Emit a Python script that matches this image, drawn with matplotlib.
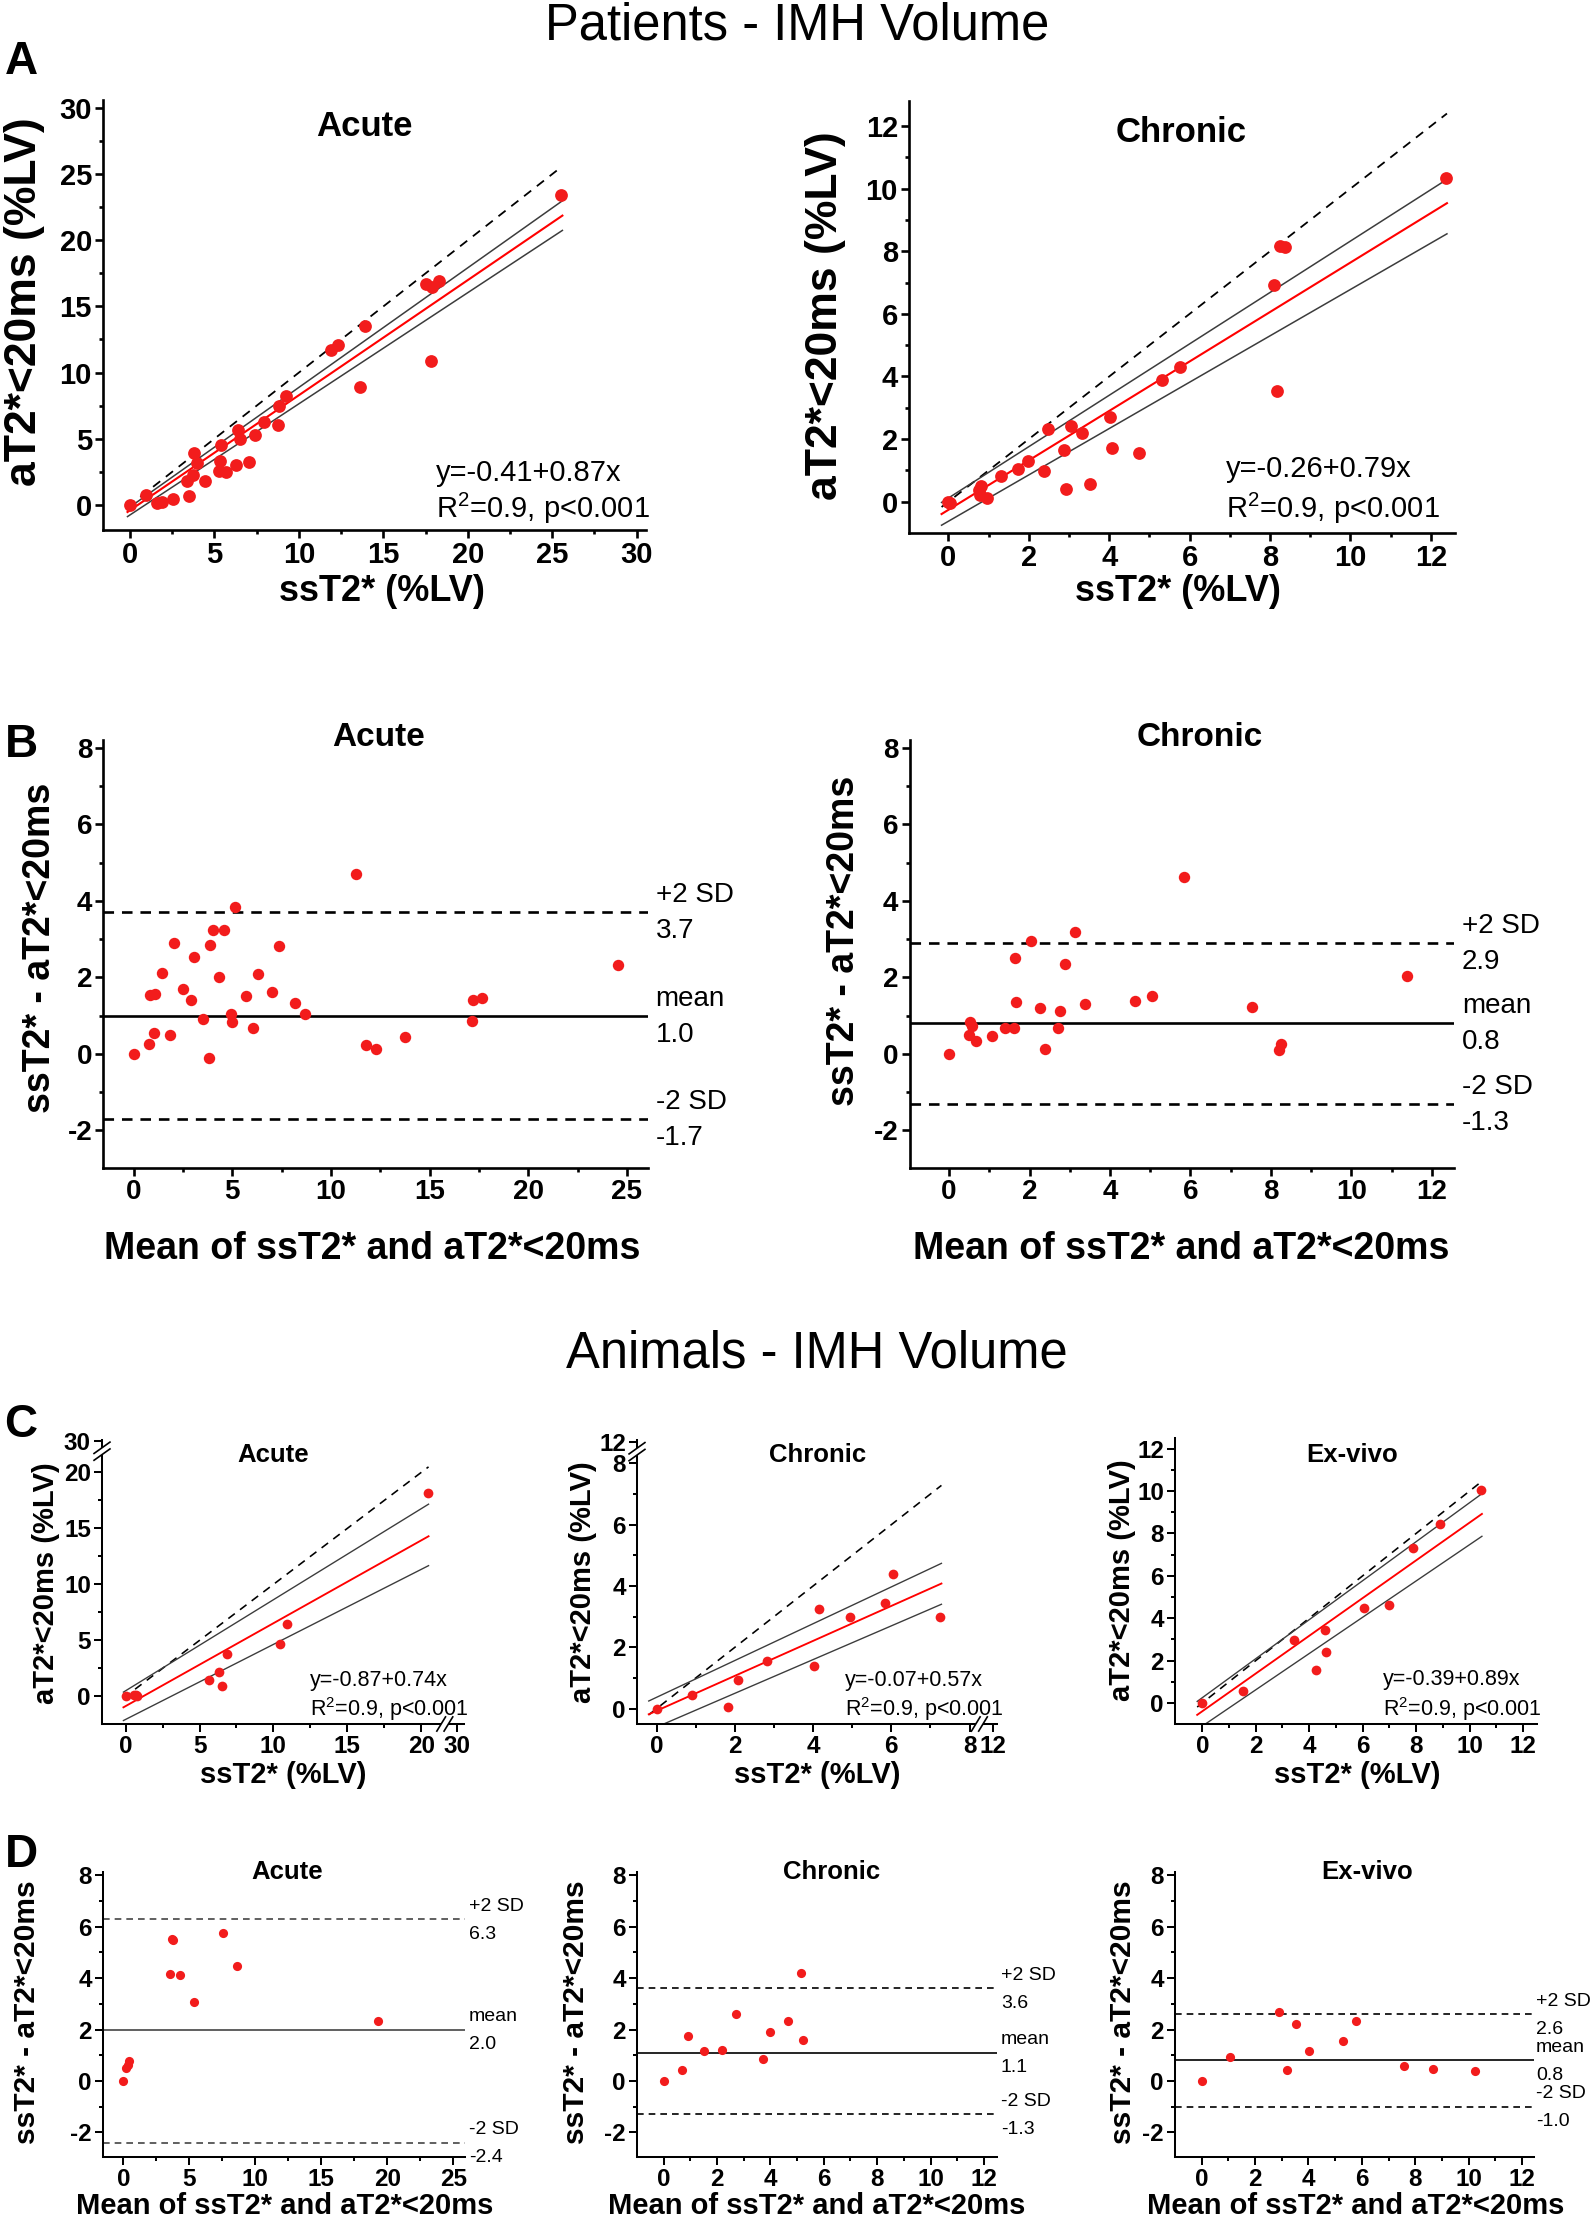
import matplotlib
matplotlib.use('Agg')
import matplotlib.pyplot as plt
import numpy as np

plt.rcParams['font.family'] = ['Liberation Sans', 'DejaVu Sans']
plt.rcParams['mathtext.fontset'] = 'custom'
plt.rcParams['mathtext.rm'] = 'Liberation Sans'
plt.rcParams['mathtext.it'] = 'Liberation Sans:italic'
plt.rcParams['mathtext.bf'] = 'Liberation Sans:bold'

W, H = 1594, 2220

# ---------------- data ----------------
# Patients, acute: ssT2* vs aT2*<20ms (%LV)
pa_ac_ss = [0, 0.92, 1.57, 1.89, 2.54, 3.5, 3.4, 3.72, 3.78, 3.94, 4.41, 5.27, 5.33, 5.37, 5.7,
            6.26, 6.41, 6.52, 7.05, 7.38, 7.91, 8.77, 8.82, 9.25, 11.9, 12.3, 13.6, 13.9, 17.5,
            17.9, 18.3, 17.8, 25.5]
pa_ac_a = [0, 0.76, 0.13, 0.25, 0.43, 0.68, 1.77, 2.27, 3.91, 3.2, 1.84, 2.53, 3.33, 4.55, 2.45,
           3.03, 5.68, 5.0, 3.23, 5.25, 6.24, 6.0, 7.5, 8.2, 11.7, 12.1, 8.9, 13.5, 16.7,
           16.5, 16.9, 10.9, 23.4]
pa_ac_fit = (-0.41, 0.87)
pa_ac_ci_hi = (-0.16, 0.904)
pa_ac_ci_lo = (-0.76, 0.84)
pa_ac_xr = (-0.15, 25.6)

# Patients, chronic
pa_ch_ss = [0, 0.05, 0.75, 0.81, 0.78, 0.97, 1.3, 1.74, 1.99, 2.37, 2.47, 2.88, 2.93, 3.05, 3.32,
            3.53, 4.02, 4.07, 4.75, 5.31, 5.77, 8.11, 8.24, 8.36, 8.17, 12.37]
pa_ch_a = [0, -0.05, 0.37, 0.5, 0.21, 0.11, 0.83, 1.04, 1.30, 0.99, 2.32, 1.66, 0.40, 2.41, 2.19,
           0.56, 2.71, 1.71, 1.55, 3.9, 4.29, 6.93, 8.16, 8.14, 3.55, 10.35]
pa_ch_fit = (-0.26, 0.79)
pa_ch_ci_hi = (0.116, 0.821)
pa_ch_ci_lo = (-0.625, 0.7405)
pa_ch_xr = (-0.17, 12.4)

# Patients Bland-Altman, acute
ba_ac_mean = [0, 0.76, 0.82, 1.07, 1.03, 1.46, 1.85, 2.06, 2.53, 2.92, 3.09, 3.54, 3.83, 3.89,
              4.05, 4.32, 4.61, 4.94, 4.98, 5.12, 5.68, 6.05, 6.30, 7.00, 7.35, 8.19, 8.70,
              11.26, 11.77, 12.28, 13.77, 17.14, 17.20, 17.65, 24.57]
ba_ac_diff = [0, 0.27, 1.53, 1.57, 0.55, 2.11, 0.50, 2.90, 1.70, 1.41, 2.54, 0.91, -0.10, 2.84,
              3.23, 2.01, 3.23, 1.05, 0.83, 3.85, 1.52, 0.69, 2.08, 1.63, 2.81, 1.32, 1.03,
              4.70, 0.23, 0.14, 0.45, 0.86, 1.40, 1.47, 2.33]
ba_ac_loa = [3.7, 1.0, -1.7]

# Patients Bland-Altman, chronic
ba_ch_mean = [0, 0.52, 0.56, 0.50, 0.67, 1.07, 1.38, 1.62, 1.64, 1.66, 2.04, 2.27, 2.39, 2.71,
              2.75, 2.89, 3.14, 3.37, 4.61, 5.05, 5.85, 7.53, 8.26, 8.21, 11.38]
ba_ch_diff = [0, 0.83, 0.72, 0.50, 0.33, 0.46, 0.69, 0.69, 2.50, 1.36, 2.94, 1.20, 0.13, 0.67,
              1.12, 2.36, 3.18, 1.30, 1.37, 1.50, 4.62, 1.23, 0.27, 0.10, 2.04]
ba_ch_loa = [2.9, 0.8, -1.3]

# Animals, acute
an_ac_ss = [0, 0.56, 0.79, 0.7, 5.63, 6.33, 6.49, 6.89, 10.44, 10.89, 20.45]
an_ac_a = [0, 0.09, 0.03, 0.12, 1.46, 2.21, 0.95, 3.79, 4.68, 6.44, 18.15]
an_ac_fit = (-0.87, 0.74)
an_ac_ci_hi = (0.5, 0.813)
an_ac_ci_lo = (-2.06, 0.67)
an_ac_xr = (-0.15, 20.5)

# Animals, chronic
an_ch_ss = [0, 0.91, 1.82, 2.09, 2.81, 4.03, 4.15, 4.94, 5.84, 6.03, 7.25]
an_ch_a = [0, 0.45, 0.05, 0.93, 1.55, 1.40, 3.26, 2.98, 3.46, 4.39, 3.00]
an_ch_fit = (-0.07, 0.57)
an_ch_ci_hi = (0.37, 0.60)
an_ch_ci_lo = (-0.60, 0.55)
an_ch_xr = (-0.2, 7.28)

# Animals, ex-vivo
an_ex_ss = [0, 1.51, 3.42, 4.24, 4.59, 4.64, 6.05, 6.98, 7.88, 8.88, 10.44]
an_ex_a = [0, 0.58, 2.98, 1.56, 3.45, 2.41, 4.48, 4.62, 7.29, 8.44, 10.06]
an_ex_fit = (-0.39, 0.89)
an_ex_ci_hi = (0.25, 0.92)
an_ex_ci_lo = (-1.09, 0.856)
an_ex_xr = (-0.19, 10.46)

# Animals Bland-Altman
da_ac_mean = [0, 0.22, 0.35, 0.43, 3.53, 3.72, 3.75, 4.29, 5.35, 7.58, 8.64, 19.3]
da_ac_diff = [0, 0.51, 0.61, 0.78, 4.17, 5.54, 5.49, 4.11, 3.06, 5.76, 4.46, 2.33]
da_ac_loa = [6.3, 2.0, -2.4]

da_ch_mean = [0, 0.69, 0.92, 1.51, 2.18, 2.72, 3.71, 3.97, 4.66, 5.14, 5.23]
da_ch_diff = [0, 0.43, 1.73, 1.15, 1.21, 2.59, 0.86, 1.91, 2.34, 4.21, 1.61]
da_ch_loa = [3.6, 1.1, -1.3]

da_ex_mean = [0, 1.05, 2.90, 3.21, 3.53, 4.01, 5.28, 5.79, 7.59, 8.68, 10.25]
da_ex_diff = [0, 0.94, 2.68, 0.42, 2.22, 1.17, 1.56, 2.34, 0.58, 0.47, 0.38]
da_ex_loa = [2.6, 0.8, -1.0]

loa_names = ['+2 SD', 'mean', '-2 SD']

RED = '#f21c1c'
GRAY = '#3c3c3c'

fig = plt.figure(figsize=(W / 100, H / 100), dpi=100)


def axes_px(left, top, right, bottom):
    return fig.add_axes([left / W, 1 - bottom / H, (right - left) / W, (bottom - top) / H])


def ftext(x, y, s, size, weight='bold', rot=0, ha='center', va='center'):
    fig.text(x / W, 1 - y / H, s, fontsize=size, fontweight=weight, rotation=rot,
             ha=ha, va=va)


def style(ax, xlim, ylim, xmaj, xmin, ymaj, ymin, lw, lsize, xlabels=None, ylabels=None):
    for s in ['top', 'right']:
        ax.spines[s].set_visible(False)
    for s in ['left', 'bottom']:
        ax.spines[s].set_linewidth(lw)
    ax.set_xlim(xlim)
    ax.set_ylim(ylim)
    xl = xlabels if xlabels else [f'{v:g}' for v in xmaj]
    yl = ylabels if ylabels else [f'{v:g}' for v in ymaj]
    ax.set_xticks(xmaj, labels=xl, fontsize=lsize, fontweight='bold')
    ax.set_yticks(ymaj, labels=yl, fontsize=lsize, fontweight='bold')
    ax.set_xticks(xmin, minor=True)
    ax.set_yticks(ymin, minor=True)
    ax.tick_params(which='major', direction='out', length=5.5, width=lw, pad=2.5)
    ax.tick_params(which='minor', direction='out', length=2.8, width=lw)


def scatter_panel(ax, x, y, fit, hi, lo, xr, ms, lw_scale=1.0):
    xs = np.array(xr)
    ax.plot(xs, xs, ls=(0, (5, 4)), color='black', lw=1.3 * lw_scale, zorder=2)
    ax.plot(xs, hi[0] + hi[1] * xs, color=GRAY, lw=1.1 * lw_scale, zorder=2)
    ax.plot(xs, lo[0] + lo[1] * xs, color=GRAY, lw=1.1 * lw_scale, zorder=2)
    ax.plot(xs, fit[0] + fit[1] * xs, color='red', lw=1.5 * lw_scale, zorder=3)
    ax.plot(x, y, 'o', color=RED, ms=ms, mec='none', zorder=5, clip_on=False)


def eq_text(ax, fit, x0, y1, y2, size):
    ax.text(x0, y1, f'y={fit[0]:g}+{fit[1]:g}x', fontsize=size, ha='left', va='center')
    ax.text(x0, y2, r'R$^{\mathregular{2}}$=0.9, p<0.001', fontsize=size, ha='left', va='center')


def ba_panel(ax, m, d, loa, ms, lw, color, size, dx, up, down):
    ax.axhline(loa[0], ls=(0, (4, 3)), color=color, lw=lw, zorder=2)
    ax.axhline(loa[1], ls='-', color=color, lw=lw, zorder=2)
    ax.axhline(loa[2], ls=(0, (4, 3)), color=color, lw=lw, zorder=2)
    ax.plot(m, d, 'o', color=RED, ms=ms, mec='none', zorder=5)
    for name, v in zip(loa_names, loa):
        ax.annotate(name, xy=(1, v), xycoords=('axes fraction', 'data'), xytext=(dx, up),
                    textcoords='offset pixels', ha='left', va='center', fontsize=size,
                    annotation_clip=False)
        ax.annotate(f'{v:.1f}', xy=(1, v), xycoords=('axes fraction', 'data'),
                    xytext=(dx, -down), textcoords='offset pixels', ha='left', va='center',
                    fontsize=size, annotation_clip=False)


def ybreak(ax, yv):
    y0, y1 = ax.get_ylim()
    f = (yv - y0) / (y1 - y0)
    ax.plot([0, 0], [f - 0.012, f + 0.012], transform=ax.transAxes, color='white', lw=4,
            clip_on=False, zorder=10, solid_capstyle='butt')
    for off in (-0.012, 0.012):
        ax.plot([-0.022, 0.022], [f + off - 0.02, f + off + 0.02], transform=ax.transAxes,
                color='black', lw=1.2, clip_on=False, zorder=11)


def xbreak(ax, xv):
    x0, x1 = ax.get_xlim()
    f = (xv - x0) / (x1 - x0)
    ax.plot([f - 0.01, f + 0.01], [0, 0], transform=ax.transAxes, color='white', lw=4,
            clip_on=False, zorder=10, solid_capstyle='butt')
    for off in (-0.01, 0.01):
        ax.plot([f + off - 0.012, f + off + 0.012], [-0.025, 0.025], transform=ax.transAxes,
                color='black', lw=1.2, clip_on=False, zorder=11)


# ---------------- headers ----------------
ftext(797, 39, 'Patients - IMH Volume', 36.5, weight='normal', va='baseline')
ftext(817, 1367, 'Animals - IMH Volume', 36.5, weight='normal', va='baseline')
for letter, yy in [('A', 74), ('B', 757), ('C', 1437), ('D', 1867)]:
    ftext(21, yy, letter, 33, va='baseline')

# ---------------- Row A ----------------
ax = axes_px(103, 100, 646, 530)
style(ax, (-1.6, 30.55), (-1.9, 30.6), np.arange(0, 31, 5), np.arange(0, 31, 2.5),
      np.arange(0, 31, 5), np.arange(0, 31, 2.5), 1.9, 21)
scatter_panel(ax, pa_ac_ss, pa_ac_a, pa_ac_fit, pa_ac_ci_hi, pa_ac_ci_lo, pa_ac_xr, 9.2)
eq_text(ax, pa_ac_fit, 18.1, 2.4, -0.25, 21)
ftext(364, 127, 'Acute', 25)
ftext(382, 592, 'ssT2* (%LV)', 26)
ftext(25, 302, 'aT2*<20ms (%LV)', 32, rot=90)

ax = axes_px(909, 101, 1455, 533)
style(ax, (-0.98, 12.6), (-1.0, 12.8), np.arange(0, 13, 2), np.arange(0, 13, 1),
      np.arange(0, 13, 2), np.arange(0, 13, 1), 1.9, 21)
scatter_panel(ax, pa_ch_ss, pa_ch_a, pa_ch_fit, pa_ch_ci_hi, pa_ch_ci_lo, pa_ch_xr, 9.2)
eq_text(ax, pa_ch_fit, 6.9, 1.04, -0.21, 21)
ftext(1181, 132, 'Chronic', 25)
ftext(1178, 592, 'ssT2* (%LV)', 26)
ftext(825, 316, 'aT2*<20ms (%LV)', 32, rot=90)

# ---------------- Row B ----------------
ax = axes_px(103.5, 740, 647.7, 1168)
style(ax, (-1.52, 26.05), (-2.98, 8.2), np.arange(0, 26, 5), np.arange(0, 26, 2.5),
      np.arange(-2, 9, 2), np.arange(-2, 9, 1), 1.9, 20)
ba_panel(ax, ba_ac_mean, ba_ac_diff, ba_ac_loa, 8.2, 1.9, 'black', 20, 8, 17, 19)
ftext(379, 737, 'Acute', 24)
ftext(372, 1249, 'Mean of ssT2* and aT2*<20ms', 27)
ftext(40, 948, 'ssT2* - aT2*<20ms', 27, rot=90)

ax = axes_px(909.6, 740, 1454, 1168)
style(ax, (-0.98, 12.55), (-2.98, 8.2), np.arange(0, 13, 2), np.arange(0, 13, 1),
      np.arange(-2, 9, 2), np.arange(-2, 9, 1), 1.9, 20)
ba_panel(ax, ba_ch_mean, ba_ch_diff, ba_ch_loa, 8.2, 1.9, 'black', 20, 8, 17, 19)
ftext(1200, 737, 'Chronic', 24)
ftext(1181, 1249, 'Mean of ssT2* and aT2*<20ms', 27)
ftext(844, 941, 'ssT2* - aT2*<20ms', 27, rot=90)

# ---------------- Row C ----------------
ax = axes_px(102, 1440, 464, 1724)
style(ax, (-1.6, 22.9), (-2.47, 22.9), [0, 5, 10, 15, 20, 22.4], np.arange(0, 21, 2.5),
      [0, 5, 10, 15, 20, 22.8], np.arange(0, 21, 2.5), 1.45, 17.5,
      xlabels=['0', '5', '10', '15', '20', '30'], ylabels=['0', '5', '10', '15', '20', '30'])
scatter_panel(ax, an_ac_ss, an_ac_a, an_ac_fit, an_ac_ci_hi, an_ac_ci_lo, an_ac_xr, 7.0, 0.9)
eq_text(ax, an_ac_fit, 12.5, 1.46, -1.16, 15.5)
ybreak(ax, 21.9)
xbreak(ax, 21.6)
ftext(273, 1455, 'Acute', 18.5)
ftext(283, 1775, 'ssT2* (%LV)', 21)
ftext(46, 1583, 'aT2*<20ms (%LV)', 21, rot=90)

ax = axes_px(637, 1440, 997, 1724)
style(ax, (-0.5, 8.7), (-0.5, 8.76), [0, 2, 4, 6, 8, 8.6], np.arange(0, 9, 1),
      [0, 2, 4, 6, 8, 8.7], np.arange(0, 9, 1), 1.45, 17.5,
      xlabels=['0', '2', '4', '6', '8', '12'], ylabels=['0', '2', '4', '6', '8', '12'])
scatter_panel(ax, an_ch_ss, an_ch_a, an_ch_fit, an_ch_ci_hi, an_ch_ci_lo, an_ch_xr, 7.0, 0.9)
eq_text(ax, an_ch_fit, 4.82, 0.93, -0.02, 15.5)
ybreak(ax, 8.38)
xbreak(ax, 8.25)
ftext(818, 1455, 'Chronic', 18.5)
ftext(817, 1775, 'ssT2* (%LV)', 21)
ftext(583, 1582, 'aT2*<20ms (%LV)', 21, rot=90)

ax = axes_px(1175, 1438, 1537, 1724)
style(ax, (-1.02, 12.52), (-0.99, 12.5), np.arange(0, 13, 2), np.arange(0, 13, 1),
      np.arange(0, 13, 2), np.arange(0, 13, 1), 1.45, 17.5)
scatter_panel(ax, an_ex_ss, an_ex_a, an_ex_fit, an_ex_ci_hi, an_ex_ci_lo, an_ex_xr, 7.0, 0.9)
eq_text(ax, an_ex_fit, 6.75, 1.09, -0.30, 15.5)
ftext(1352, 1455, 'Ex-vivo', 18.5)
ftext(1357, 1775, 'ssT2* (%LV)', 21)
ftext(1122, 1580, 'aT2*<20ms (%LV)', 21, rot=90)

# ---------------- Row D ----------------
ax = axes_px(103, 1872, 465, 2157)
style(ax, (-1.55, 25.9), (-2.96, 8.13), np.arange(0, 26, 5), np.arange(0, 26, 2.5),
      np.arange(-2, 9, 2), np.arange(-2, 9, 1), 1.45, 17.5)
ba_panel(ax, da_ac_mean, da_ac_diff, da_ac_loa, 6.6, 1.2, '#444444', 14, 4, 13, 15)
ftext(287, 1872, 'Acute', 18.5)
ftext(285, 2206, 'Mean of ssT2* and aT2*<20ms', 21)
ftext(27, 2012, 'ssT2* - aT2*<20ms', 21.5, rot=90)

ax = axes_px(637, 1872, 997, 2157)
style(ax, (-1.0, 12.49), (-2.96, 8.13), np.arange(0, 13, 2), np.arange(0, 13, 1),
      np.arange(-2, 9, 2), np.arange(-2, 9, 1), 1.45, 17.5)
ba_panel(ax, da_ch_mean, da_ch_diff, da_ch_loa, 6.6, 1.2, 'black', 14, 4, 13, 15)
ftext(832, 1872, 'Chronic', 18.5)
ftext(817, 2206, 'Mean of ssT2* and aT2*<20ms', 21)
ftext(576, 2012, 'ssT2* - aT2*<20ms', 21.5, rot=90)

ax = axes_px(1175, 1872, 1534, 2157)
style(ax, (-1.0, 12.45), (-2.96, 8.13), np.arange(0, 13, 2), np.arange(0, 13, 1),
      np.arange(-2, 9, 2), np.arange(-2, 9, 1), 1.45, 17.5)
ba_panel(ax, da_ex_mean, da_ex_diff, da_ex_loa, 6.6, 1.2, 'black', 14, 2, 13, 15)
ftext(1367, 1872, 'Ex-vivo', 18.5)
ftext(1356, 2206, 'Mean of ssT2* and aT2*<20ms', 21)
ftext(1123, 2012, 'ssT2* - aT2*<20ms', 21.5, rot=90)

fig.savefig('out.png', dpi=100)
